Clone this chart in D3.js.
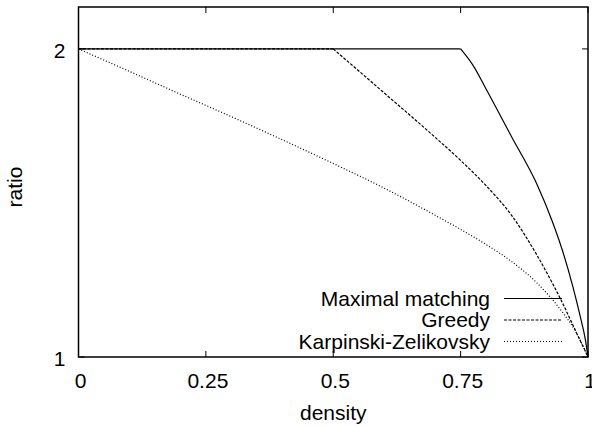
<!DOCTYPE html>
<html>
<head>
<meta charset="utf-8">
<script src="https://cdn.jsdelivr.net/npm/d3@7"></script>
<style>
    body { margin: 0; background: #fff; }
    text { font-family: "Liberation Sans", Arial, sans-serif; fill: #000; }
</style>
</head>
<body>
<svg id="chart" width="592" height="426"></svg>
<script>
// values
const xTicks = [0, 0.25, 0.5, 0.75, 1];
const xTickLabels = ["0", "0.25", "0.5", "0.75", "1"];
const yTicks = [1, 2];
const yTickLabels = ["1", "2"];

const seriesNames = ["Maximal matching", "Greedy", "Karpinski-Zelikovsky"];

// flat part at ratio 2, then the falling part
const maximalFlatX = [0, 0.75];
const maximalFlatY = [2, 2];
const maximalX = [0.75, 0.775, 0.8, 0.85, 0.9, 0.93, 0.95, 0.97, 0.985, 0.995, 1];
const maximalY = [2, 1.945, 1.87, 1.715, 1.56, 1.44, 1.345, 1.23, 1.13, 1.055, 1];

const greedyFlatX = [0, 0.5];
const greedyFlatY = [2, 2];
const greedyX = [0.5, 0.6, 0.7, 0.75, 0.8, 0.85, 0.9, 0.93, 0.95, 0.97, 0.985, 0.995, 1];
const greedyY = [2, 1.857, 1.713, 1.638, 1.556, 1.46, 1.33, 1.24, 1.175, 1.105, 1.052, 1.018, 1];

const kzX = [0, 0.1, 0.2, 0.3, 0.4, 0.5, 0.6, 0.7, 0.8, 0.85, 0.9, 0.95, 0.975, 1];
const kzY = [2, 1.927, 1.853, 1.78, 1.705, 1.628, 1.548, 1.46, 1.365, 1.31, 1.24, 1.145, 1.085, 1];

const svg = d3.select("#chart");
const width = 592;
const height = 426;
const margin = { top: 7, right: 4, bottom: 69, left: 78.5 };
const fontSize = 21;

const x = d3.scaleLinear().domain([0, 1]).range([margin.left, width - margin.right]);
const y = d3.scaleLinear().domain([1, 2.136]).range([height - margin.bottom, margin.top]);

const tickLen = 6;

// ticks (gnuplot style: inward, mirrored)
const ticks = svg.append("g").attr("stroke", "#000").attr("stroke-width", 1);
xTicks.forEach((d) => {
    ticks.append("line")
        .attr("x1", x(d)).attr("x2", x(d))
        .attr("y1", y.range()[0]).attr("y2", y.range()[0] - tickLen);
    ticks.append("line")
        .attr("x1", x(d)).attr("x2", x(d))
        .attr("y1", y.range()[1]).attr("y2", y.range()[1] + tickLen);
});
yTicks.forEach((d) => {
    ticks.append("line")
        .attr("x1", x.range()[0]).attr("x2", x.range()[0] + tickLen)
        .attr("y1", y(d)).attr("y2", y(d));
    ticks.append("line")
        .attr("x1", x.range()[1]).attr("x2", x.range()[1] - tickLen)
        .attr("y1", y(d)).attr("y2", y(d));
});

// tick labels
svg.append("g")
    .selectAll("text")
    .data(xTicks)
    .join("text")
    .attr("x", (d) => x(d) + 2)
    .attr("y", y.range()[0] + 24)
    .attr("dy", "0.35em")
    .attr("text-anchor", "middle")
    .style("font-size", `${fontSize}px`)
    .text((d, i) => xTickLabels[i]);

svg.append("g")
    .selectAll("text")
    .data(yTicks)
    .join("text")
    .attr("x", margin.left - 13)
    .attr("y", (d) => y(d) + 2)
    .attr("dy", "0.35em")
    .attr("text-anchor", "end")
    .style("font-size", `${fontSize}px`)
    .text((d, i) => yTickLabels[i]);

// axis titles
svg.append("text")
    .attr("x", (x.range()[0] + x.range()[1]) / 2)
    .attr("y", 413)
    .attr("dy", "0.35em")
    .attr("text-anchor", "middle")
    .style("font-size", `${fontSize}px`)
    .text("density");

svg.append("text")
    .attr("transform", `translate(15,187) rotate(-90)`)
    .attr("dy", "0.35em")
    .attr("text-anchor", "middle")
    .style("font-size", `${fontSize}px`)
    .text("ratio");

// curves
const pairs = (xs, ys) => xs.map((v, i) => [v, ys[i]]);
const series = [
    { flat: pairs(maximalFlatX, maximalFlatY), fall: pairs(maximalX, maximalY), dash: null },
    { flat: pairs(greedyFlatX, greedyFlatY), fall: pairs(greedyX, greedyY), dash: "3,1.5" },
    { flat: null, fall: pairs(kzX, kzY), dash: "1,2" },
];

const flatLine = d3.line()
    .x((d) => x(d[0]))
    .y((d) => y(d[1]));
const fallLine = d3.line()
    .x((d) => x(d[0]))
    .y((d) => y(d[1]))
    .curve(d3.curveMonotoneX);

const curves = svg.append("g").attr("fill", "none").attr("stroke", "#000").attr("stroke-width", 1.2);
series.forEach((s) => {
    if (s.flat) {
        curves.append("path")
            .datum(s.flat)
            .attr("d", flatLine)
            .attr("stroke-dasharray", s.dash);
    }
    curves.append("path")
        .datum(s.fall)
        .attr("d", fallLine)
        .attr("stroke-dasharray", s.dash);
});

// legend
const legendRows = [298.5, 320, 341.5];
const legend = svg.append("g");
seriesNames.forEach((name, i) => {
    legend.append("text")
        .attr("x", 490)
        .attr("y", legendRows[i])
        .attr("dy", "0.35em")
        .attr("text-anchor", "end")
        .style("font-size", `${fontSize}px`)
        .text(name);
    legend.append("line")
        .attr("x1", 504).attr("x2", 562)
        .attr("y1", legendRows[i]).attr("y2", legendRows[i])
        .attr("stroke", "#000")
        .attr("stroke-width", 1.2)
        .attr("stroke-dasharray", series[i].dash);
});

// border
svg.append("rect")
    .attr("x", x.range()[0])
    .attr("y", y.range()[1])
    .attr("width", x.range()[1] - x.range()[0])
    .attr("height", y.range()[0] - y.range()[1])
    .attr("fill", "none")
    .attr("stroke", "#000")
    .attr("stroke-width", 1.5);
</script>
</body>
</html>
